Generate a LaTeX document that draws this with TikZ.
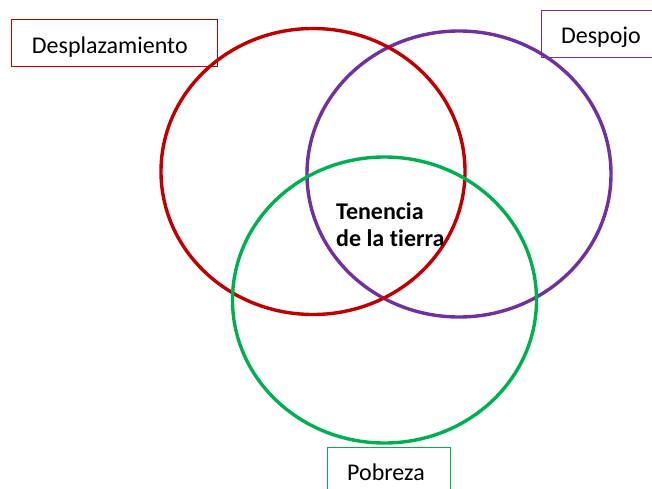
\documentclass[tikz,border=0pt]{standalone}
\usepackage{fontspec}
\setmainfont{Carlito}[Ligatures=NoCommon]
\usetikzlibrary{shapes.geometric}
\definecolor{rojo}{HTML}{C00000}
\definecolor{morado}{HTML}{7030A0}
\definecolor{verde}{HTML}{00B050}
\begin{document}
\begin{tikzpicture}[x=1pt,y=-1pt,
 conjunto/.style={ellipse,draw,line width=3.4pt,minimum width=304pt,minimum height=286pt,inner sep=0pt},
 caja/.style={draw,line width=1pt,inner sep=0pt},
 rotulo/.style={anchor=base,font=\fontsize{24}{28}\selectfont}]
 \useasboundingbox (0,0) rectangle (652,489);
 \node[conjunto,morado] (despojo) at (459,174) {};
 \node[conjunto,rojo] (desplazamiento) at (313,171.5) {};
 \node[conjunto,verde] (pobreza) at (384.5,300) {};
 \node[caja,rojo,minimum width=206pt,minimum height=47pt] (cajaDesplazamiento) at (114,43) {};
 \node[caja,morado,minimum width=130pt,minimum height=47pt] (cajaDespojo) at (606,34.5) {};
 \node[caja,verde,minimum width=123pt,minimum height=60pt] (cajaPobreza) at (388.5,477) {};
 \node[rotulo] (tDesplazamiento) at (109.8,53.3) {Desplazamiento};
 \node[rotulo] (tDespojo) at (601,43.3) {Despojo};
 \node[rotulo] (tPobreza) at (386,480) {Pobreza};
 \node[anchor=base west,align=left,inner sep=0pt,font=\bfseries\fontsize{24}{27.7}\selectfont] (tenencia) at (336,246.7) {Tenencia\\de la tierra};
\end{tikzpicture}
\end{document}
